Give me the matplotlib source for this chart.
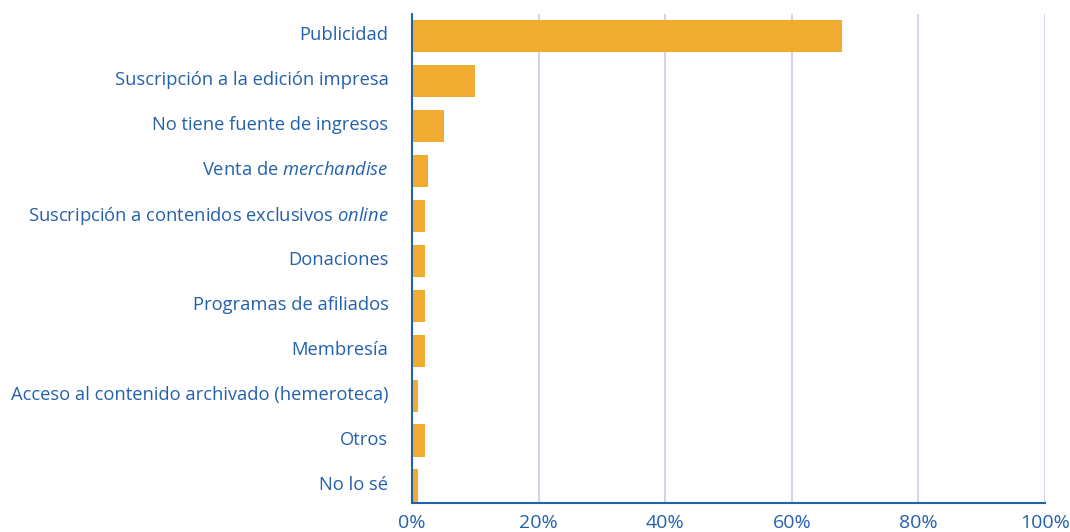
import matplotlib
matplotlib.use("Agg")
import matplotlib.pyplot as plt
from matplotlib.transforms import ScaledTranslation

plt.rcParams['font.family'] = ['Open Sans', 'DejaVu Sans']
plt.rcParams['mathtext.fontset'] = 'custom'
plt.rcParams['mathtext.rm'] = 'Open Sans'
plt.rcParams['mathtext.it'] = 'Open Sans:italic'

categories = [
    "Publicidad",
    "Suscripción a la edición impresa",
    "No tiene fuente de ingresos",
    r"Venta de $\mathit{merchandise}$",
    r"Suscripción a contenidos exclusivos $\mathit{online}$",
    "Donaciones",
    "Programas de afiliados",
    "Membresía",
    "Acceso al contenido archivado (hemeroteca)",
    "Otros",
    "No lo sé",
]
values = [68, 10, 5, 2.5, 2, 2, 2, 2, 1, 2, 1]
xticks = [0, 20, 40, 60, 80, 100]
xticklabels = ["0%", "20%", "40%", "60%", "80%", "100%"]

text_color = "#2361ad"
bar_color = "#f0ac30"
grid_color = "#c8d0e8"

fig = plt.figure(figsize=(10.7, 5.32), dpi=100)
ax = fig.add_axes([412/1070, 1-503/532, (1045-412)/1070, (503-14)/532])

pos = list(range(len(categories)))
ax.barh(pos, values, height=0.73, color=bar_color, zorder=3)

ax.set_xlim(0, 100)
ax.set_ylim(10.38, -0.49)
ax.set_yticks(pos)
ax.set_yticklabels(categories)
ax.set_xticks(xticks)
ax.set_xticklabels(xticklabels)

ax.tick_params(axis='y', length=0, pad=17, labelsize=13.2, labelcolor=text_color)
ax.tick_params(axis='x', length=0, pad=8, labelsize=14, labelcolor=text_color)

up = ScaledTranslation(0, 3/100, fig.dpi_scale_trans)
for lbl in ax.get_yticklabels():
    lbl.set_transform(lbl.get_transform() + up)

ax.grid(axis='x', color=grid_color, linewidth=1.2, zorder=0)
for s in ['top', 'right']:
    ax.spines[s].set_visible(False)
for s in ['left', 'bottom']:
    ax.spines[s].set_color(text_color)
    ax.spines[s].set_linewidth(1.5)
    ax.spines[s].set_zorder(4)

fig.savefig("out.png", dpi=100)
